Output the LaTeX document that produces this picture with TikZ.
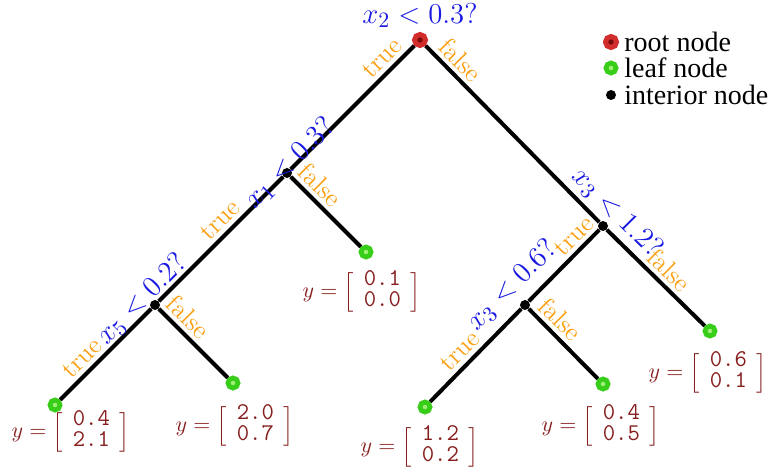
\documentclass[tikz,border=0pt]{standalone}
\usepackage{amsmath,amssymb}
\usepackage{fontspec}
\newfontfamily\legendfont{Liberation Serif}
\usetikzlibrary{positioning}
\definecolor{splitblue}{RGB}{25,25,225}
\definecolor{edgeorange}{RGB}{250,160,20}
\definecolor{leafgreen}{RGB}{55,205,25}
\definecolor{leafcore}{RGB}{160,240,120}
\definecolor{rootred}{RGB}{210,45,45}
\definecolor{rootcore}{RGB}{120,10,10}
\definecolor{valred}{RGB}{135,30,30}
% leaf output vector
\newcommand{\ttnum}[1]{\mbox{\fontsize{12}{12}\selectfont\ttfamily #1}}
\newcommand{\yvec}[2]{\def\arraystretch{0.8}%
  $y=\left[\begin{array}{c}\ttnum{#1}\\\ttnum{#2}\end{array}\right]$}

\begin{document}
\begin{tikzpicture}[x=0.5pt,y=-0.5pt, every node/.style={inner sep=1pt},
  branch/.style={line width=2pt},
  rootpt/.style={circle,draw=rootred,fill=rootcore,line width=2.5pt,minimum size=5.5pt,inner sep=0pt},
  leafpt/.style={circle,draw=leafgreen,fill=leafcore,line width=2.4pt,minimum size=5pt,inner sep=0pt},
  innerpt/.style={circle,fill=black,minimum size=5pt,inner sep=0pt},
  test/.style={text=splitblue,font=\fontsize{15}{18}\selectfont},
  answer/.style={text=edgeorange,font=\fontsize{13}{15}\selectfont,sloped,above,inner sep=2pt},
  val/.style={text=valred,font=\fontsize{11}{13.2}\selectfont},
  legend/.style={font=\legendfont\fontsize{14}{16}\selectfont,anchor=west}]
\useasboundingbox (0,0) rectangle (774,471);
% tree nodes
\node[rootpt] (r) at (420,40) {};
\node[innerpt] (a) at (287,173) {};
\node[leafpt] (l1) at (366,252) {};
\node[innerpt] (b) at (155,305) {};
\node[leafpt] (l2) at (55,405) {};
\node[leafpt] (l3) at (233,383) {};
\node[innerpt] (c) at (603,226) {};
\node[innerpt] (d) at (525,305) {};
\node[leafpt] (l4) at (425,407) {};
\node[leafpt] (l5) at (603,384) {};
\node[leafpt] (l6) at (710,331) {};
% branches
\draw[branch] (r) -- node[answer,pos=0.18] {true} (a);
\draw[branch] (r) -- node[answer,pos=0.14] {false} (c);
\draw[branch] (a) -- node[answer,pos=0.43] {true} (b);
\draw[branch] (a) -- node[answer,pos=0.27] {false} (l1);
\draw[branch] (b) -- node[answer,pos=0.65] {true} (l2);
\draw[branch] (b) -- node[answer,pos=0.27] {false} (l3);
\draw[branch] (c) -- node[answer,pos=0.22] {true} (d);
\draw[branch] (c) -- node[answer,pos=0.53] {false} (l6);
\draw[branch] (d) -- node[answer,pos=0.56] {true} (l4);
\draw[branch] (d) -- node[answer,pos=0.30] {false} (l5);
% split tests
\node[test,above=1pt of r] (tr) {$x_2<0.3?$};
\node[test,rotate=45] (ta) at (290,163) {$x_1<0.3?$};
\node[test,rotate=45] (tb) at (142,299) {$x_5<0.2?$};
\node[test,rotate=-45] (tc) at (617,213) {$x_3<1.2?$};
\node[test,rotate=45] (td) at (512,285) {$x_3<0.6?$};
% leaf values
\node[val] (v1) at (362,292) {\yvec{0.1}{0.0}};
\node[val] (v2) at (71,432) {\yvec{0.4}{2.1}};
\node[val] (v3) at (235,426) {\yvec{2.0}{0.7}};
\node[val] (v4) at (420,447) {\yvec{1.2}{0.2}};
\node[val] (v5) at (601,426) {\yvec{0.4}{0.5}};
\node[val] (v6) at (708,373) {\yvec{0.6}{0.1}};
% legend
\node[rootpt] (kr) at (611,42) {};
\node[leafpt] (kl) at (611,68) {};
\node[innerpt] (ki) at (611,95) {};
\node[legend] at (622,42) {root node};
\node[legend] at (622,68) {leaf node};
\node[legend] at (622,95) {interior node};
\end{tikzpicture}
\end{document}
